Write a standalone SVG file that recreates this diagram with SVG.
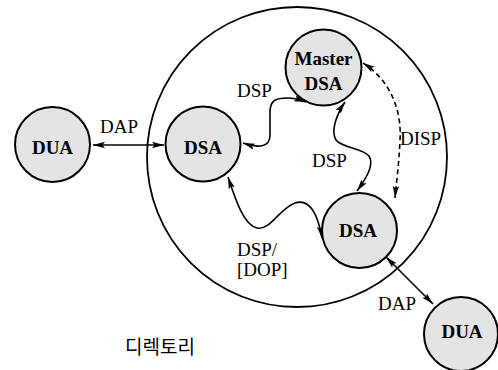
<svg xmlns="http://www.w3.org/2000/svg" width="498" height="370" viewBox="0 0 498 370">
  <defs>
    <marker id="arrow" viewBox="0 0 12 8" refX="12" refY="4" markerWidth="12" markerHeight="8" markerUnits="userSpaceOnUse" orient="auto-start-reverse">
      <path d="M0,0.8 L12,4 L0,7.2 L2.5,4 Z" fill="#000"/>
    </marker>
  </defs>
  <style>
    .node { fill: #e4e4e4; stroke: #000; stroke-width: 2; }
    .name { font-family: 'Liberation Serif', 'DejaVu Serif', serif; font-size: 19px; font-weight: bold; text-anchor: middle; fill: #000; }
    .lbl { font-family: 'Liberation Serif', 'DejaVu Serif', serif; font-size: 19px; fill: #000; }
    .kr { font-family: 'Noto Sans CJK KR', sans-serif; font-size: 19px; fill: #000; }
    .link { fill: none; stroke: #000; stroke-width: 1.6; marker-start: url(#arrow); marker-end: url(#arrow); }
    .dashed { stroke-dasharray: 5 3.5; }
    .domain { fill: none; stroke: #000; stroke-width: 1.8; }
  </style>

  <rect width="498" height="370" fill="#fff"/>

  <!-- directory boundary -->
  <circle class="domain" cx="297" cy="157" r="150"/>

  <g id="connectors">
    <line class="link" x1="93" y1="145" x2="164" y2="145"/>
    <path class="link" d="M 243 143 C 258 148, 270 148, 270 135 L 270 112 C 270 100, 276 98, 288 98 C 295 98, 300 100, 306 102"/>
    <path class="link" d="M 345 102 C 338 112, 330 130, 336 140 C 342 148, 362 148, 369 156 C 375 165, 365 180, 357 191"/>
    <path class="link dashed" d="M 363 63 C 390 80, 402 110, 400 140 C 399 165, 396 185, 395 198"/>
    <path class="link" d="M 228 177 C 234 195, 243 225, 257 228 C 270 231, 280 208, 295 203 C 310 198, 318 215, 322 238"/>
    <line class="link" x1="386" y1="257" x2="433" y2="304"/>
  </g>

  <g id="dua-left">
    <circle class="node" cx="52.5" cy="144.5" r="37.5"/>
    <text class="name" x="52.5" y="154" font-family="Liberation Serif, DejaVu Serif, serif">DUA</text>
  </g>
  <g id="dsa-left">
    <circle class="node" cx="203" cy="144" r="37.5"/>
    <text class="name" x="203" y="154" font-family="Liberation Serif, DejaVu Serif, serif">DSA</text>
  </g>
  <g id="dsa-master">
    <circle class="node" cx="323.5" cy="67.5" r="38"/>
    <text class="name" x="323.5" y="65" font-family="Liberation Serif, DejaVu Serif, serif">Master</text>
    <text class="name" x="323.5" y="90" font-family="Liberation Serif, DejaVu Serif, serif">DSA</text>
  </g>
  <g id="dsa-right">
    <circle class="node" cx="359.5" cy="230.5" r="37.5"/>
    <text class="name" x="358" y="237" font-family="Liberation Serif, DejaVu Serif, serif">DSA</text>
  </g>
  <g id="dua-right">
    <circle class="node" cx="461" cy="334" r="37"/>
    <text class="name" x="462" y="338" font-family="Liberation Serif, DejaVu Serif, serif">DUA</text>
  </g>

  <g id="labels" font-family="Liberation Serif, DejaVu Serif, serif">
    <text class="lbl" x="100" y="133">DAP</text>
    <text class="lbl" x="237" y="97">DSP</text>
    <text class="lbl" x="312" y="167">DSP</text>
    <text class="lbl" x="400" y="145">DISP</text>
    <text class="lbl" x="237" y="256">DSP/</text>
    <text class="lbl" x="237" y="276">[DOP]</text>
    <text class="lbl" x="378" y="310">DAP</text>
    <text class="kr" x="125" y="354">디렉토리</text>
  </g>
</svg>
